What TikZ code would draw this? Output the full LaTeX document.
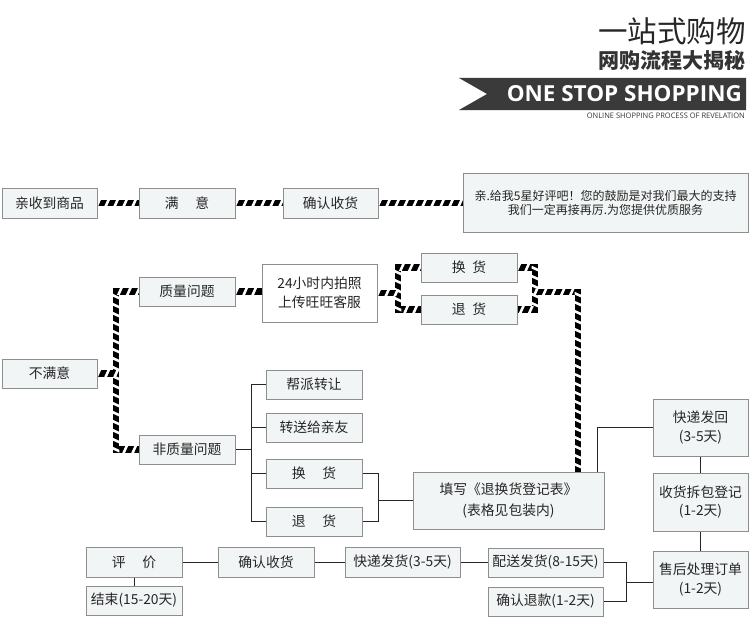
\documentclass[tikz,border=0pt]{standalone}
\usepackage{fontspec}
\usepackage{graphicx}
\setmainfont{Open Sans}
\newfontfamily\cjk{Noto Sans CJK SC}
\usetikzlibrary{decorations.markings}
\pgfdeclarelayer{bg}
\pgfsetlayers{bg,main}
\definecolor{boxfill}{HTML}{F2F5F5}
\definecolor{boxline}{HTML}{8E8E8E}
\definecolor{txt}{HTML}{262626}
\definecolor{banner}{HTML}{3A3A3A}
\tikzset{
  box/.style={draw=boxline, line width=0.9pt, fill=boxfill, minimum width=96pt,
    minimum height=29pt, inner sep=0pt, align=center,
    font=\cjk\fontsize{13.8}{18.5}\selectfont, text=txt},
  stripe/.style={line width=6.2pt, draw=black, line join=miter,
    postaction={decorate},
    decoration={markings, mark=between positions 0 and 1 step 9pt with
      {\fill[white] (-2.2pt,-3.3pt) -- (0.6pt,-3.3pt) -- (3.6pt,3.3pt) -- (0.8pt,3.3pt) -- cycle;}}},
  conn/.style={draw=black!85, line width=0.9pt}
}
\begin{document}
\begin{tikzpicture}[x=1pt,y=-1pt]
\useasboundingbox (0,0) rectangle (750,642);
% title
\node[anchor=base east, inner sep=0pt, font=\cjk\fontsize{29.5}{29.5}\selectfont, text=black!85] (t1) at (746,43) {一站式购物};
\node[anchor=base east, inner sep=0pt, font=\cjk\bfseries\fontsize{21}{21}\selectfont, text=black!80] (t2) at (746,68.5) {网购流程大揭秘};
\fill[banner] (459,78) -- (746,78) -- (746,110) -- (459,110) -- (487,94) -- cycle;
\node[anchor=east, inner sep=0pt, text=white] (t3) at (742,94) {\resizebox{235pt}{16pt}{\bfseries ONE STOP SHOPPING}};
\node[anchor=east, inner sep=0pt, text=black!80] (t4) at (745,115.5) {\resizebox{158pt}{5.5pt}{ONLINE SHOPPING PROCESS OF REVELATION}};
% row 1
\node[box, minimum width=95pt, minimum height=30pt] (a1) at (49.5,203) {亲收到商品};
\node[box, minimum height=30pt] (a2) at (187,203) {满\hspace{1.2em}意};
\node[box, minimum width=95pt, minimum height=30pt] (a3) at (330.5,203) {确认收货};
\node[box, minimum width=285pt, minimum height=59pt, font=\cjk\fontsize{12}{14}\selectfont] (a4) at (605.5,202.5) {亲.给我5星好评吧！您的鼓励是对我们最大的支持\\我们一定再接再厉.为您提供优质服务};
% quality
\node[box, minimum width=95pt] (b0) at (49.5,373.5) {不满意};
\node[box] (b1) at (187,291.5) {质量问题};
\node[box, fill=white, minimum width=115pt, minimum height=58pt] (b2) at (319.5,293) {24小时内拍照\\上传旺旺客服};
\node[box] (b3) at (469,267.5) {换\hspace{0.5em}货};
\node[box] (b4) at (469,309.5) {退\hspace{0.5em}货};
% non quality
\node[box] (c0) at (187,449.5) {非质量问题};
\node[box] (c1) at (314,384.5) {帮派转让};
\node[box] (c2) at (314,427.5) {转送给亲友};
\node[box] (c3) at (314,473.5) {换\hspace{1.2em}货};
\node[box] (c4) at (314,521.5) {退\hspace{1.2em}货};
\node[box, minimum width=191pt, minimum height=57pt, font=\cjk\fontsize{13.8}{21}\selectfont] (d0) at (508.5,500.5) {填写《退换货登记表》\\(表格见包装内)};
% right column
\node[box, minimum width=95pt, minimum height=57pt] (e1) at (700.5,427.5) {快递发回\\(3-5天)};
\node[box, minimum width=95pt, minimum height=58pt] (e2) at (700.5,502) {收货拆包登记\\(1-2天)};
\node[box, minimum width=95pt, minimum height=57pt] (e3) at (700.5,579.5) {售后处理订单\\(1-2天)};
\node[box, minimum width=115pt] (f1) at (545.5,562.5) {配送发货(8-15天)};
\node[box, minimum width=115pt] (f2) at (545.5,601.5) {确认退款(1-2天)};
\node[box, minimum width=115pt, minimum height=30pt] (g1) at (402.5,562) {快递发货(3-5天)};
\node[box, minimum height=30pt] (g2) at (266,562) {确认收货};
\node[box, minimum height=30pt] (g3) at (134,562) {评\hspace{1.2em}价};
\node[box] (g4) at (134,600.5) {结束(15-20天)};
% connectors
\begin{pgfonlayer}{bg}
\draw[stripe] (a1.east) -- (a2.west);
\draw[stripe] (a2.east) -- (a3.west);
\draw[stripe] (a3.east) -- (a3.east -| a4.west);
\coordinate (j) at (116,373.5);
\draw[stripe] (b1.west) -| (j) |- (c0.west);
\draw[stripe] (b0.east) -- (j);
\draw[stripe] (b1.east) -- (b1.east -| b2.west);
\coordinate (k1) at (398,293);
\draw[stripe] (b3.west) -| (k1) |- (b4.west);
\draw[stripe] (b2.east) -- (k1);
\coordinate (k2) at (535,292);
\draw[stripe] (b3.east) -| (k2) |- (b4.east);
\path (d0.north) ++(69.5,0) coordinate (k3);
\draw[stripe] (k2) -| (k3);
\draw[conn] (c0.east) -- ++(17,0);
\draw[conn] (c1.west) -- ++(-14,0) |- (c4.west);
\draw[conn] (c2.west) -- ++(-14,0);
\draw[conn] (c3.west) -- ++(-14,0);
\draw[conn] (c3.east) -- ++(16,0) |- (c4.east);
\draw[conn] (d0.west) -- ++(-35,0);
\draw[conn] (d0.north east) ++(-7,0) |- (e1.west);
\draw[conn] (e1.south) -- (e2.north);
\draw[conn] (e2.south) -- (e3.north);
\draw[conn] (f1.east) -- ++(23,0) |- (f2.east);
\draw[conn] (e3.west) ++(0,2.5) -- ++(-27,0);
\draw[conn] (f1.west) -- (f1.west -| g1.east);
\draw[conn] (g1.west) -- (g2.east);
\draw[conn] (g2.west) -- (g3.east);
\draw[conn] (g3.south) -- (g4.north);
\end{pgfonlayer}
\end{tikzpicture}
\end{document}
